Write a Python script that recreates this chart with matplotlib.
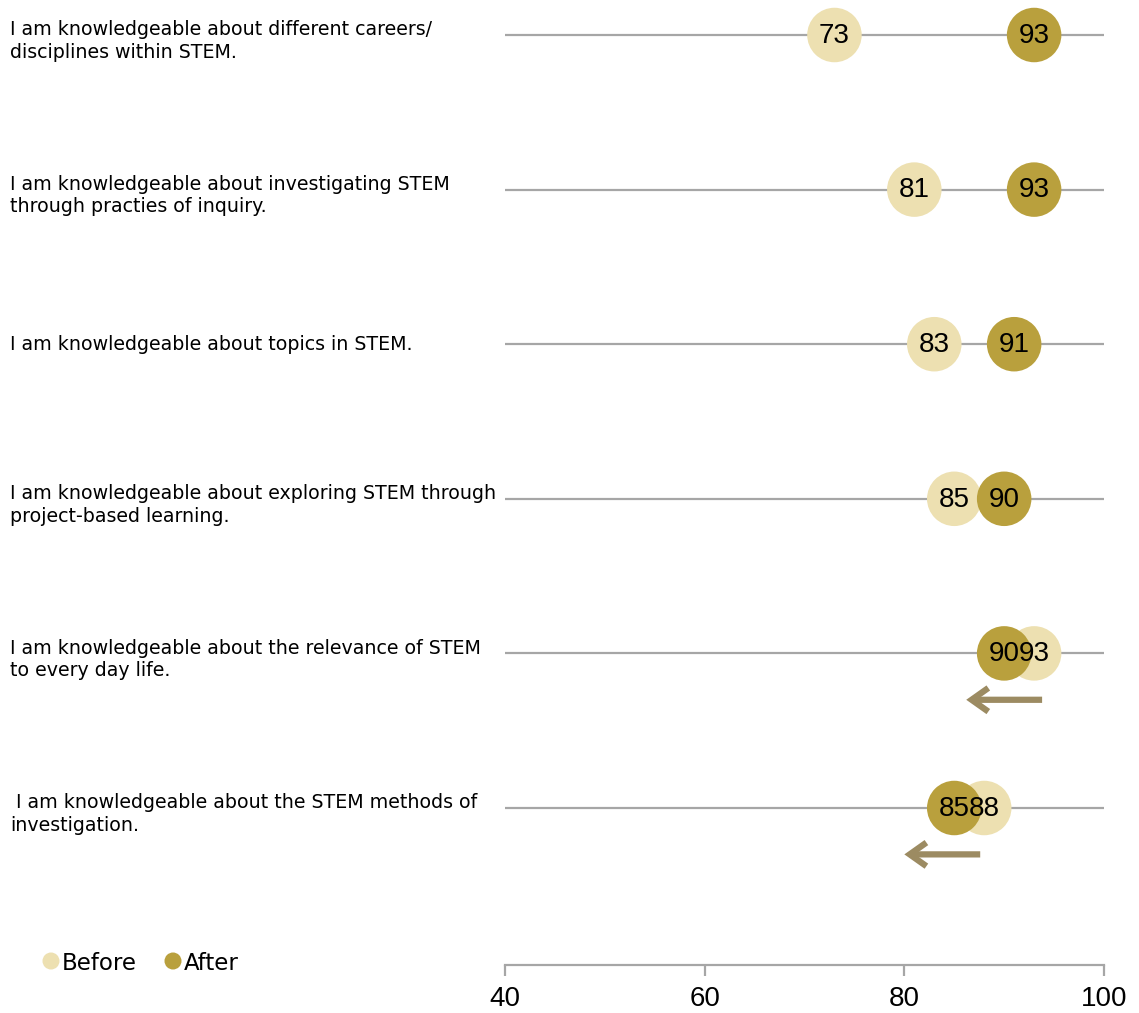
import matplotlib.pyplot as plt

# survey statements, top to bottom
statements = [
    "I am knowledgeable about different careers/\ndisciplines within STEM.",
    "I am knowledgeable about investigating STEM\nthrough practies of inquiry.",
    "I am knowledgeable about topics in STEM.",
    "I am knowledgeable about exploring STEM through\nproject-based learning.",
    "I am knowledgeable about the relevance of STEM\nto every day life.",
    " I am knowledgeable about the STEM methods of\ninvestigation.",
]
before = [73, 81, 83, 85, 93, 88]
after = [93, 93, 91, 90, 90, 85]

# arrows marking a drop: row index, start and end on the x scale
arrow_rows = [4, 5]
arrow_start = [93.8, 87.6]
arrow_end = [86.2, 80.0]

xticks = [40, 60, 80, 100]

c_before = "#EDE0B1"
c_after = "#B9A03D"
c_arrow = "#9C8B62"
c_line = "#A6A6A6"

num_font = ["Liberation Sans Narrow", "DejaVu Sans Condensed", "Liberation Sans", "DejaVu Sans"]
lab_font = ["DejaVu Sans"]

W, H = 1139, 1013
fig = plt.figure(figsize=(W / 100, H / 100), dpi=100)

# axes covers the plotting column; bottom edge is the x axis line
x0, x1 = 505, 1104
ybot = 965
ax = fig.add_axes([x0 / W, (H - ybot) / H, (x1 - x0) / W, ybot / H])

row_px = 35
step_px = 154.6
ax.set_xlim(40, 100)
ax.set_ylim((ybot - row_px) / step_px, -row_px / step_px)

n = len(statements)
rows = list(range(n))

for i in rows:
    ax.plot([40, 100], [i, i], color=c_line, lw=1.6, zorder=1, solid_capstyle="butt")

ax.scatter(before, rows, s=1540, color=c_before, edgecolors="none", zorder=2)
ax.scatter(after, rows, s=1540, color=c_after, edgecolors="none", zorder=3)

for i in rows:
    ax.text(before[i], i + 0.005, str(before[i]), ha="center", va="center",
            fontsize=20, family=num_font, zorder=4)
    ax.text(after[i], i + 0.005, str(after[i]), ha="center", va="center",
            fontsize=20, family=num_font, zorder=4)

for r, xs, xe in zip(arrow_rows, arrow_start, arrow_end):
    ax.annotate("", xy=(xe, r + 0.3), xytext=(xs, r + 0.3),
                arrowprops=dict(arrowstyle="->,head_length=1.2,head_width=0.85",
                                mutation_scale=10, color=c_arrow, lw=4.5,
                                shrinkA=0, shrinkB=0, capstyle="butt",
                                joinstyle="miter"),
                zorder=2)

# statement labels on the left
for i, s in enumerate(statements):
    off = 6 if "\n" in s else 0
    y_fig = H - (row_px + step_px * i + off)
    fig.text(10 / W, y_fig / H, s, ha="left", va="center", fontsize=13.7,
             family=lab_font, linespacing=1.25)

# x axis
for side in ["top", "right", "left"]:
    ax.spines[side].set_visible(False)
ax.spines["bottom"].set_color(c_line)
ax.spines["bottom"].set_linewidth(1.6)
ax.set_yticks([])
ax.set_xticks(xticks)
ax.set_xticklabels([str(t) for t in xticks], family=num_font, fontsize=20)
ax.tick_params(axis="x", direction="out", length=8, width=1.6, color=c_line, pad=7)

# legend drawn in pixel space
leg_ax = fig.add_axes([0, 0, 1, 1], facecolor="none")
leg_ax.set_xlim(0, W)
leg_ax.set_ylim(H, 0)
leg_ax.axis("off")
leg_ax.scatter([51, 173], [961, 961], s=150, color=[c_before, c_after], edgecolors="none")
leg_ax.text(62, 963, "Before", fontsize=16.5, family=lab_font, va="center")
leg_ax.text(184, 963, "After", fontsize=16.5, family=lab_font, va="center")

fig.savefig("out.png", dpi=100)
